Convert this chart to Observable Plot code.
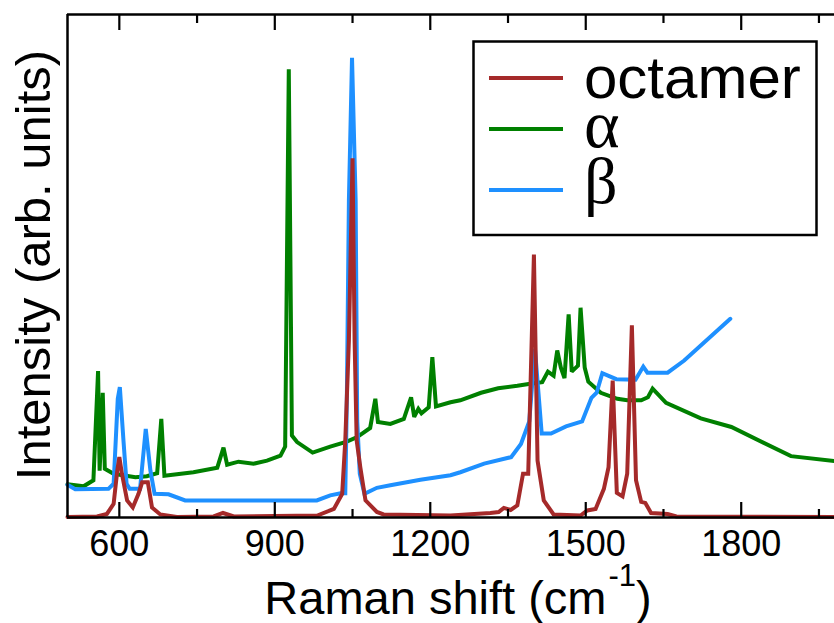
<!DOCTYPE html>
<html>
<head>
<meta charset="utf-8">
<script src="https://cdn.jsdelivr.net/npm/d3@7"></script>
<script src="https://cdn.jsdelivr.net/npm/@observablehq/plot@0.6"></script>
<style>
  body { margin: 0; background: #fff; }
  #chart { width: 834px; height: 623px; }
</style>
</head>
<body>
<div id="chart"></div>
<script>
// Raman spectra: [shift (cm^-1), intensity (arb. units)]
const octamer = [
  [500,0.1],[557,0.2],[576,0.7],[589,2.7],[596,9.3],[600,12.0],[605,8.7],[615,3.4],[626,2.0],
  [637,4.7],[644,7.0],[655,7.0],[663,2.0],[679,0.6],[711,0.1],[782,0.2],[800,0.9],[821,0.2],
  [982,0.4],[1014,1.7],[1030,4.7],[1036,15.3],[1043,35.2],[1050,71.4],[1054,35.2],[1058,15.3],
  [1065,10.0],[1075,3.4],[1097,1.1],[1110,0.6],[1239,0.4],[1316,0.9],[1332,1.1],[1342,1.9],
  [1355,1.5],[1368,2.4],[1379,8.7],[1389,8.7],[1400,52.3],[1407,11.3],[1419,3.4],[1438,0.6],
  [1490,0.4],[1503,1.4],[1519,1.7],[1535,5.7],[1544,10.0],[1552,27.2],[1560,4.9],[1571,4.2],
  [1580,8.7],[1589,38.2],[1597,7.4],[1607,3.1],[1615,2.9],[1626,0.9],[1658,0.7],[1675,0.2],
  [1980,0.1]
];
const alpha = [
  [500,6.6],[531,6.2],[550,7.4],[559,29.1],[562,9.3],[568,24.8],[572,9.7],[589,8.7],[631,8.0],
  [653,8.2],[673,8.8],[681,19.6],[687,8.3],[743,9.0],[789,9.9],[801,13.9],[808,10.5],[830,11.1],
  [859,10.7],[885,11.3],[911,12.3],[920,14.1],[927,89.1],[933,16.3],[943,15.0],[973,12.9],
  [1007,14.1],[1039,15.1],[1059,16.0],[1084,17.8],[1094,23.6],[1099,19.0],[1123,18.6],
  [1149,19.6],[1163,23.9],[1169,20.0],[1177,21.6],[1183,20.7],[1197,21.9],[1204,31.9],
  [1211,22.1],[1239,22.9],[1258,23.3],[1298,24.8],[1331,25.7],[1368,26.2],[1393,26.6],
  [1416,26.9],[1427,29.0],[1438,28.2],[1445,33.2],[1452,29.8],[1459,27.7],[1467,40.4],
  [1473,29.0],[1481,29.8],[1485,30.2],[1490,41.7],[1498,29.8],[1505,27.0],[1529,24.8],
  [1561,23.6],[1580,23.3],[1607,23.3],[1620,23.9],[1629,25.6],[1655,22.8],[1722,19.7],
  [1781,18.0],[1896,12.2],[1980,11.2]
];
const beta = [
  [500,6.5],[515,5.6],[579,5.7],[589,6.7],[597,23.6],[601,25.9],[608,15.3],[614,6.7],[620,5.7],
  [640,5.7],[651,17.6],[660,9.3],[668,4.7],[695,4.6],[727,3.4],[981,3.4],[1007,4.4],[1027,4.8],
  [1036,4.8],[1039,23.3],[1043,63.0],[1049,91.4],[1056,63.0],[1059,19.3],[1064,8.7],[1073,4.7],
  [1097,5.9],[1123,6.4],[1181,7.5],[1239,8.4],[1258,9.0],[1304,10.7],[1356,12.0],[1375,14.6],
  [1391,19.1],[1402,33.5],[1415,16.7],[1433,16.7],[1462,18.1],[1493,19.1],[1511,23.8],
  [1521,24.8],[1532,28.7],[1559,27.5],[1596,27.4],[1611,30.0],[1619,28.8],[1658,28.8],
  [1690,31.2],[1779,39.5]
];

const seriesNames = ["octamer", "α", "β"];
const seriesColors = ["#a52a2a", "#008000", "#1e90ff"];
const majorTicks = [600, 900, 1200, 1500, 1800];
const minorTicks = [750, 1050, 1350, 1650, 1950];
const xDomain = [500, 1980];
const yDomain = [0, 100];

const toRows = (pts, name) => pts.map(([shift, intensity]) => ({shift, intensity, name}));
const color = Object.fromEntries(seriesNames.map((n, i) => [n, seriesColors[i]]));
const line = (pts, name) => Plot.lineY(toRows(pts, name), {
  x: "shift", y: "intensity", stroke: color[name], strokeWidth: 4, strokeLinejoin: "miter", strokeMiterlimit: 2
});

const plot = Plot.plot({
  width: 834,
  height: 623,
  marginLeft: 67,
  marginRight: 0,
  marginTop: 14,
  marginBottom: 106,
  x: {domain: xDomain},
  y: {domain: yDomain},
  style: {fontFamily: "'Liberation Sans', Arial, sans-serif", background: "#fff", color: "#000", overflow: "visible"},
  marks: [
    // spectra (β over α, octamer on top)
    line(alpha, "α"),
    line(beta, "β"),
    line(octamer, "octamer"),
    // frame: left, top and bottom edges
    Plot.ruleX([xDomain[0]], {strokeWidth: 2.5}),
    Plot.ruleY(yDomain, {strokeWidth: 2.5}),
    // inward ticks on bottom and top
    Plot.axisX(majorTicks, {anchor: "bottom", tickSize: -15, strokeWidth: 2.2, text: null, label: null}),
    Plot.axisX(minorTicks, {anchor: "bottom", tickSize: -8, strokeWidth: 2.2, text: null, label: null}),
    Plot.axisX(majorTicks, {anchor: "top", tickSize: -15, strokeWidth: 2.2, text: null, label: null}),
    Plot.axisX(minorTicks, {anchor: "top", tickSize: -8, strokeWidth: 2.2, text: null, label: null}),
    Plot.axisX(majorTicks, {anchor: "bottom", tickSize: 0, tickPadding: 13, fontSize: 36, label: null, tickFormat: d => String(d)}),
    Plot.axisY({ticks: [], label: null})
  ]
});

const svg = d3.select(plot);

// axis titles
svg.append("text")
  .attr("transform", "translate(50,265) rotate(-90)")
  .attr("text-anchor", "middle")
  .attr("font-size", 49)
  .attr("fill", "#000")
  .text("Intensity (arb. units)");

const xt = svg.append("text")
  .attr("x", 458).attr("y", 614)
  .attr("text-anchor", "middle")
  .attr("font-size", 47)
  .attr("fill", "#000");
xt.append("tspan").text("Raman shift (cm");
xt.append("tspan").attr("font-size", 31).attr("dx", 2).attr("dy", -28).text("-1");
xt.append("tspan").attr("dy", 28).text(")");

// legend
const lg = svg.append("g").attr("text-anchor", "start");
lg.append("rect")
  .attr("x", 473.5).attr("y", 41.5).attr("width", 343).attr("height", 193.5)
  .attr("fill", "#fff").attr("stroke", "#000").attr("stroke-width", 2.5);
const rowsY = [78, 129, 190];
const baseY = [98, 147, 203];
const fonts = ["'Liberation Sans', Arial, sans-serif", "'Liberation Serif', 'Times New Roman', serif", "'Liberation Serif', 'Times New Roman', serif"];
const sizes = [60, 68, 66];
seriesNames.forEach((name, i) => {
  lg.append("line")
    .attr("x1", 489).attr("x2", 563).attr("y1", rowsY[i]).attr("y2", rowsY[i])
    .attr("stroke", seriesColors[i]).attr("stroke-width", 4);
  lg.append("text")
    .attr("x", 584).attr("y", baseY[i])
    .attr("text-anchor", "start")
    .attr("font-family", fonts[i]).attr("font-size", sizes[i]).attr("fill", "#000")
    .text(name);
});

document.getElementById("chart").append(plot);
</script>
</body>
</html>
